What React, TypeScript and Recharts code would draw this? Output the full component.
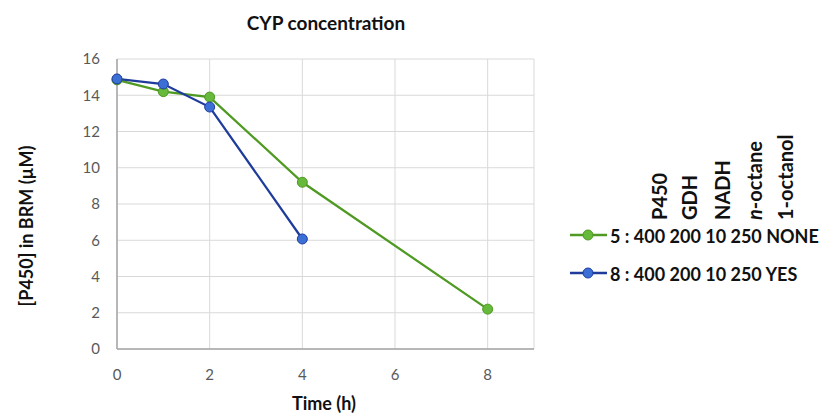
import { CartesianGrid, Customized, Legend, Line, LineChart, XAxis, YAxis } from "recharts"

const greenTimes = [0, 1, 2, 4, 8]
const greenValues = [14.85, 14.2, 13.9, 9.2, 2.2]
const blueTimes = [0, 1, 2, 4]
const blueValues = [14.9, 14.62, 13.35, 6.07]

const xTicks = [0, 2, 4, 6, 8]
const yTicks = [0, 2, 4, 6, 8, 10, 12, 14, 16]
const headers = ["P450", "GDH", "NADH", "n-octane", "1-octanol"]
const seriesNames = ["5 : 400 200 10 250 NONE", "8 : 400 200 10 250 YES"]

const greenData = greenTimes.map((t, i) => ({ t, v: greenValues[i] }))
const blueData = blueTimes.map((t, i) => ({ t, v: blueValues[i] }))

const FONT = "Lato, 'Open Sans', sans-serif"
const headerX = [107, 137, 170, 202, 233]

function LegendBox({ payload }: any) {
  const items = payload || []
  return (
    <svg width={263} height={190} style={{ display: "block", fontFamily: FONT }}>
      {headers.map((h, i) => (
        <text
          key={h}
          x={headerX[i]}
          y={110}
          transform={`rotate(-90 ${headerX[i]} 110)`}
          fontSize={20}
          fontWeight={700}
          fill="#111"
        >
          {h.startsWith("n-") ? (
            <>
              <tspan fontStyle="italic">n</tspan>
              {h.slice(1)}
            </>
          ) : (
            h
          )}
        </text>
      ))}
      {items.map((entry: any, i: number) => {
        const cy = 125 + i * 38
        return (
          <g key={entry.value}>
            <line x1={10} x2={47} y1={cy} y2={cy} stroke={entry.color} strokeWidth={2.5} />
            <circle cx={28} cy={cy} r={5} fill={entry.payload.dot.fill} stroke={entry.color} strokeWidth={1} />
            <text x={50} y={cy + 8} fontSize={18} fontWeight={700} fill="#111">
              {entry.value}
            </text>
          </g>
        )
      })}
    </svg>
  )
}

export default function App() {
  return (
    <div style={{ position: "absolute", left: 0, top: 0, width: 823, height: 416, background: "#fff" }}>
      <LineChart width={823} height={416} margin={{ top: 59, right: 289, bottom: 0, left: 0 }}>
        <CartesianGrid stroke="#d9d9d9" strokeWidth={1} />
        <XAxis
          type="number"
          dataKey="t"
          domain={[0, 9]}
          ticks={xTicks}
          height={67}
          tickLine={false}
          tickMargin={14}
          axisLine={{ stroke: "#a6a6a6", strokeWidth: 1.5 }}
          tick={{ fontSize: 15, fill: "#595959", fontFamily: FONT }}
          label={{
            content: () => (
              <text x={324} y={410} textAnchor="middle" fontSize={18} fontWeight={700} fill="#111" fontFamily={FONT}>
                Time (h)
              </text>
            ),
          }}
        />
        <YAxis
          type="number"
          domain={[0, 16]}
          ticks={yTicks}
          width={117}
          tickLine={false}
          tickMargin={11}
          axisLine={{ stroke: "#a6a6a6", strokeWidth: 1.5 }}
          tick={{ fontSize: 15, fill: "#595959", fontFamily: FONT }}
          label={{
            content: () => (
              <text
                x={33}
                y={226}
                transform="rotate(-90 33 226)"
                textAnchor="middle"
                fontSize={18}
                fontWeight={700}
                fill="#111"
                fontFamily={FONT}
              >
                [P450] in BRM (µM)
              </text>
            ),
          }}
        />
        <Customized
          component={() => (
            <text x={326} y={30} textAnchor="middle" fontSize={19} fontWeight={700} fill="#111" fontFamily={FONT}>
              CYP concentration
            </text>
          )}
        />
        <Legend
          layout="horizontal"
          align="center"
          verticalAlign="middle"
          wrapperStyle={{ left: 560, top: 110, width: 263, height: 190 }}
          content={<LegendBox />}
        />
        <Line
          data={greenData}
          dataKey="v"
          name={seriesNames[0]}
          stroke="#4f9a22"
          strokeWidth={2.25}
          dot={{ r: 5, fill: "#66b93a", stroke: "#4f9a22", strokeWidth: 1 }}
          isAnimationActive={false}
        />
        <Line
          data={blueData}
          dataKey="v"
          name={seriesNames[1]}
          stroke="#1f3c9c"
          strokeWidth={2.25}
          dot={{ r: 5, fill: "#3b6fd6", stroke: "#1f3c9c", strokeWidth: 1 }}
          isAnimationActive={false}
        />
      </LineChart>
    </div>
  )
}
